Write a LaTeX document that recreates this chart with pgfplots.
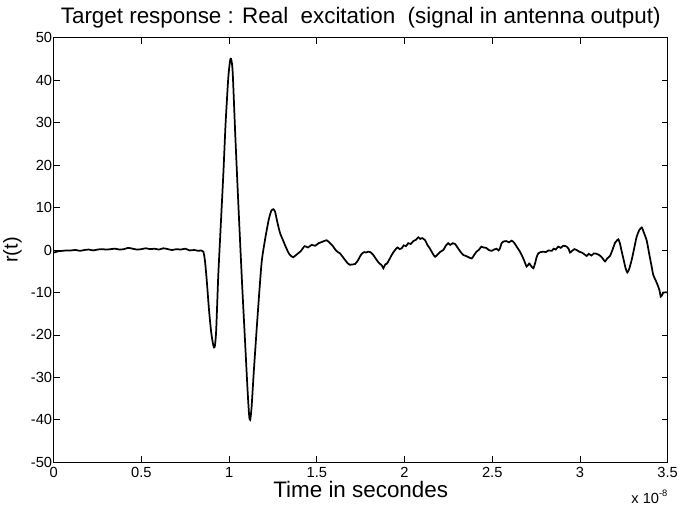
\documentclass[border=0pt]{standalone}
\usepackage{pgfplots}
\pgfplotsset{compat=1.18}
\usepackage{fontspec}
\setmainfont{Liberation Sans}
\begin{document}
\begin{tikzpicture}
\begin{axis}[
  name=ax,
  scale only axis, clip=false,
  width=460.5pt, height=318.45pt,
  xmin=0, xmax=3.5, ymin=-50, ymax=50,
  xtick={0,0.5,1,1.5,2,2.5,3,3.5},
  xticklabels={0,0.5,1,1.5,2,2.5,3,3.5},
  ytick={-50,-40,-30,-20,-10,0,10,20,30,40,50},
  yticklabels={-50,-40,-30,-20,-10,0,10,20,30,40,50},
  tick pos=both, tick align=inside,
  major tick length=4.5pt,
  every tick/.style={black, line width=0.6pt},
  axis line style={line width=0.8pt},
  ticklabel style={font=\fontsize{11}{13}\selectfont},
  yticklabel style={inner sep=1pt},
  xticklabel style={inner sep=0pt, yshift=-3.5pt, text depth=0pt},
  title={Target response : Real\ \ excitation\ \ (signal in antenna output)},
  title style={at={(rel axis cs:0.5,1)}, anchor=base, yshift=4.3pt, inner sep=0pt, font=\fontsize{16.8}{18}\selectfont},
  xlabel={Time in secondes},
  xlabel style={at={(rel axis cs:0.5,0)}, anchor=base, yshift=-26.3pt, inner sep=0pt, text depth=0pt, font=\fontsize{16.8}{19}\selectfont},
]
\addplot[black, line width=1.3pt, smooth, tension=0.4] coordinates {
(0,-0.6)(0.01,-0.5)(0.025,-0.3)(0.05,-0.2)(0.075,-0.1)(0.1,-0.1)(0.125,0.0)(0.15,-0.2)(0.175,0.0)(0.2,0.1)
(0.225,-0.1)(0.25,0.1)(0.275,0.2)(0.3,0.1)(0.325,0.2)(0.35,0.3)(0.375,0.1)(0.4,0.2)(0.425,0.5)(0.45,0.3)
(0.475,0.1)(0.5,0.2)(0.525,0.4)(0.55,0.2)(0.575,0.3)(0.6,0.1)(0.625,0.4)(0.65,0.2)(0.675,0.0)(0.7,0.2)
(0.725,0.1)(0.75,0.3)(0.775,-0.1)(0.8,0.0)(0.825,-0.2)(0.84,-0.1)(0.853,-0.4)
(0.862,-2.5)(0.872,-7)(0.885,-14)(0.898,-19.5)(0.91,-22.5)(0.918,-22.8)(0.926,-19)(0.938,-6)(0.95,4)
(0.967,18)(0.98,30)(0.995,40.5)(1.005,44.5)(1.011,45)(1.02,42)(1.035,27)(1.05,13)(1.062,2.3)(1.075,-9)
(1.09,-21)(1.105,-33)(1.114,-39)(1.12,-40)(1.128,-37)(1.14,-29)(1.153,-21)(1.166,-13.3)(1.185,-3)(1.204,2.3)
(1.225,7)(1.24,9.2)(1.252,9.6)(1.262,9)(1.275,6.5)(1.29,4)(1.305,2.5)(1.32,1)(1.34,-0.8)(1.355,-1.5)(1.366,-1.7)
(1.39,-0.9)(1.41,-0.2)(1.43,0.9)(1.45,0.6)(1.47,1.2)(1.49,1.0)(1.51,1.6)(1.53,1.9)(1.556,2.3)
(1.575,1.6)(1.59,1.0)(1.605,0.1)(1.62,-0.5)(1.632,-0.8)(1.645,-1.5)(1.66,-2.3)(1.675,-3.1)(1.689,-3.5)(1.70,-3.4)
(1.718,-3.3)(1.735,-2.4)(1.745,-1.6)(1.756,-0.9)(1.77,-0.5)(1.78,-0.6)(1.793,-0.4)(1.805,-0.5)(1.822,-1.2)(1.84,-2.3)
(1.855,-3.1)(1.87,-3.6)(1.879,-4.3)(1.89,-3.4)(1.9,-3.2)(1.907,-2.7)(1.92,-1.7)(1.935,-0.6)(1.946,0.0)(1.96,0.6)
(1.972,0.2)(1.984,0.4)(1.995,1.1)(2.008,0.9)(2.021,1.6)(2.035,1.4)(2.05,2.1)(2.065,2.4)(2.078,3.0)(2.09,2.6)
(2.1,2.8)(2.117,2.3)(2.13,1.2)(2.145,0.3)(2.16,-0.8)(2.174,-1.6)(2.19,-1.0)(2.205,-0.4)(2.221,0.0)(2.235,1.0)
(2.249,1.6)(2.26,1.2)(2.275,1.6)(2.288,1.4)(2.3,0.7)(2.315,-0.2)(2.335,-1.2)(2.35,-1.4)(2.365,-1.7)(2.383,-2.0)
(2.395,-1.3)(2.41,-0.4)(2.425,0.1)(2.438,0.8)(2.449,0.6)(2.465,0.5)(2.48,0.0)(2.497,-0.2)(2.51,0.1)(2.525,0.3)
(2.535,-0.1)(2.544,0.4)(2.553,1.6)(2.563,2.0)(2.58,2.1)(2.595,1.8)(2.611,2.2)(2.625,1.7)(2.639,0.8)(2.655,-0.2)
(2.668,-1.2)(2.682,-2.5)(2.696,-3.9)(2.71,-3.2)(2.722,-3.8)(2.734,-4.3)(2.745,-3.0)(2.752,-1.8)(2.762,-0.8)(2.775,-0.5)
(2.791,-0.4)(2.805,-0.5)(2.82,-0.1)(2.839,-0.2)(2.85,0.3)(2.862,0.1)(2.876,0.8)(2.89,0.5)(2.905,1.0)(2.924,0.8)
(2.935,0.3)(2.943,-0.6)(2.955,-0.2)(2.968,0.2)(2.981,0.0)(2.995,-0.4)(3.01,-0.6)(3.025,-1.0)(3.038,-1.4)(3.05,-0.9)
(3.065,-1.3)(3.08,-0.8)(3.095,-0.9)(3.11,-1.2)(3.124,-1.7)(3.133,-2.2)(3.143,-2.7)(3.155,-2.0)(3.171,-1.4)(3.185,0.0)
(3.2,1.7)(3.21,2.2)(3.219,2.5)(3.228,1.5)(3.238,-0.4)(3.25,-2.5)(3.26,-4.3)(3.27,-5.3)(3.28,-4.5)(3.295,-2.3)
(3.31,0.6)(3.323,3.1)(3.337,4.6)(3.352,5.3)(3.365,4.0)(3.38,2.3)(3.395,-1.0)(3.408,-3.8)(3.418,-5.9)(3.432,-7.2)
(3.446,-8.6)(3.455,-9.8)(3.46,-11)(3.468,-10.6)(3.475,-10)(3.5,-10)
};
\end{axis}
\node[anchor=base east, inner sep=0pt, font=\fontsize{11}{13}\selectfont] at ([yshift=-30.75pt]ax.south east) {x 10\raisebox{0.85ex}{\fontsize{7}{8}\selectfont -8}};
\node[rotate=90, anchor=center, inner sep=0pt, font=\fontsize{15}{17}\selectfont] at ([xshift=-30.9pt]ax.west) {r(t)};
\pgfresetboundingbox
\useasboundingbox (-40.3pt,-32.78pt) rectangle (468.98pt,346.73pt);
\end{tikzpicture}
\end{document}
